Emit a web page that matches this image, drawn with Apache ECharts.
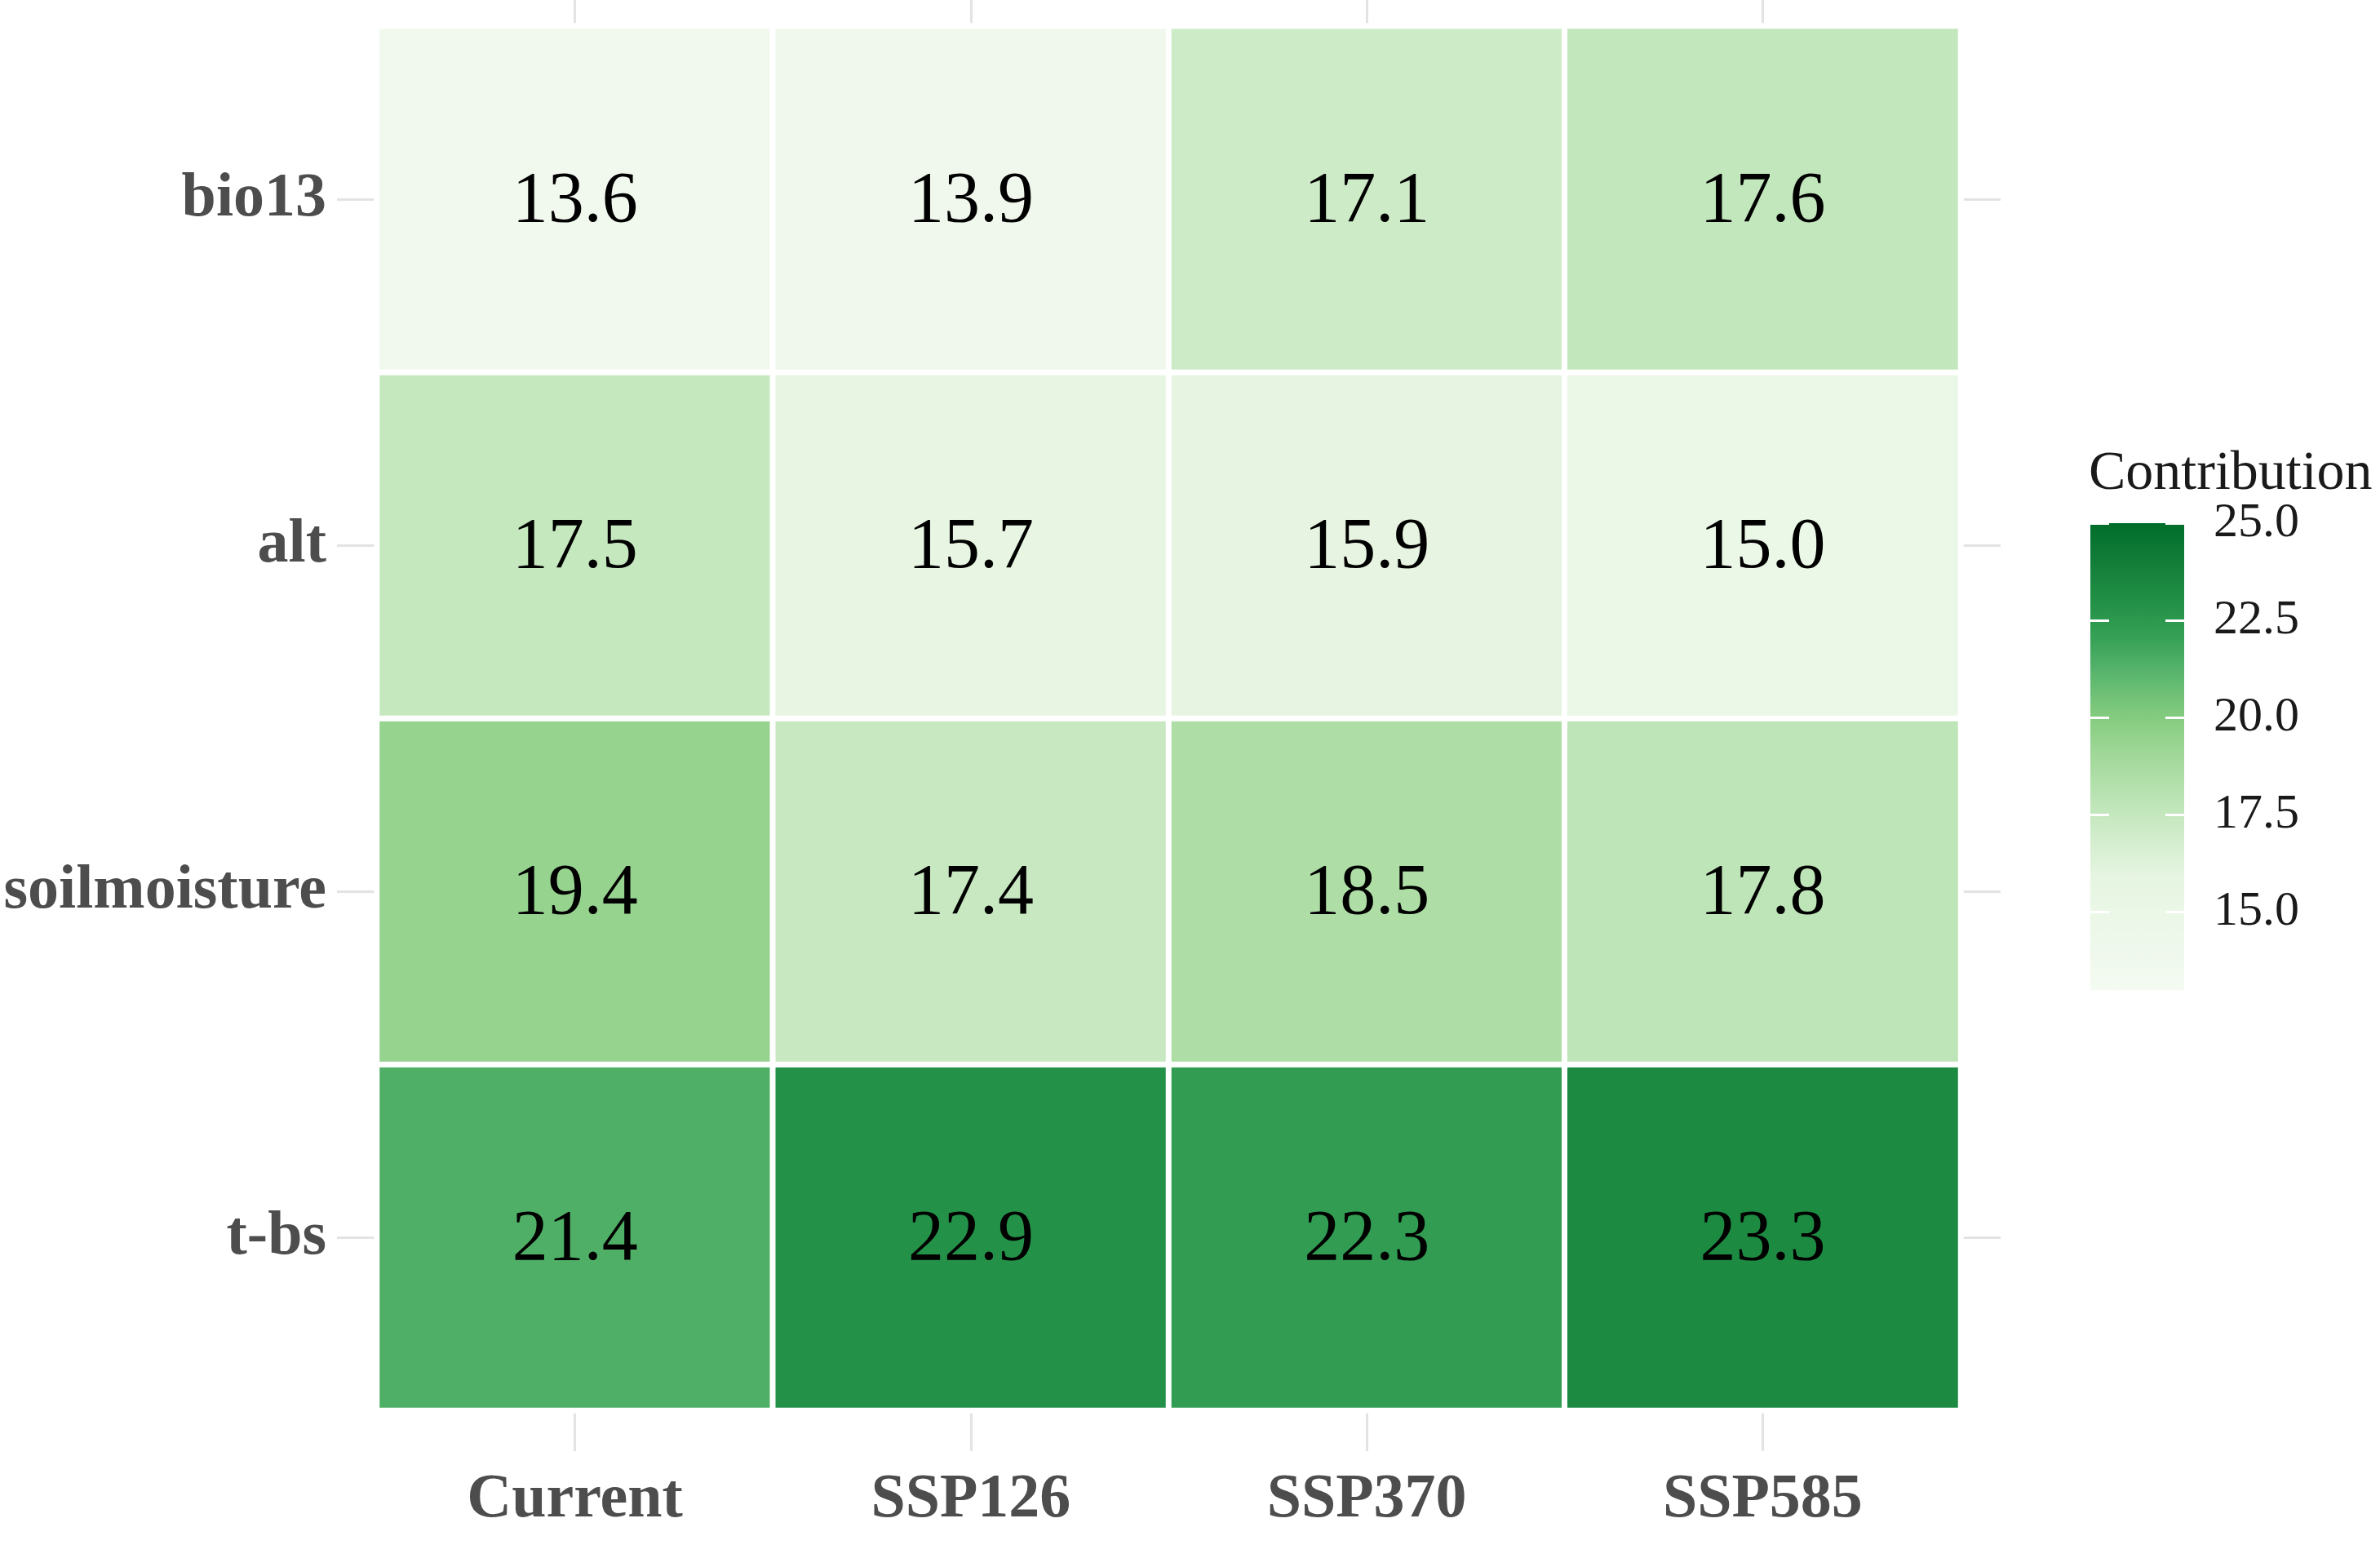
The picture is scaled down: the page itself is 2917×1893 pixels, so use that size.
<!DOCTYPE html>
<html>
<head>
<meta charset="utf-8">
<title>Contribution heatmap</title>
<script src="https://cdn.jsdelivr.net/npm/echarts@6/dist/echarts.min.js"></script>
<style>
  html,body{margin:0;padding:0;background:#fff;}
  #main{width:2917px;height:1893px;}
</style>
</head>
<body>
<div id="main"></div>
<script>
// data
var scenarios = ['Current', 'SSP126', 'SSP370', 'SSP585'];
var variables = ['t-bs', 'soilmoisture', 'alt', 'bio13'];   // bottom -> top
var tbsVals  = [21.4, 22.9, 22.3, 23.3];
var soilVals = [19.4, 17.4, 18.5, 17.8];
var altVals  = [17.5, 15.7, 15.9, 15.0];
var bioVals  = [13.6, 13.9, 17.1, 17.6];
var legendTicks = [15, 17.5, 20, 22.5, 25];
var legendMin = 13, legendMax = 25;
// colour ramp, one stop per unit from 13 to 25
var greens = ['#f4fbf2', '#eff8ec', '#ebf7e7', '#e5f4e0', '#d0ecca', '#b9e3b2', '#a2d89a',
              '#85cc7f', '#5fb870', '#37a257', '#228f47', '#127e38', '#006d2c'];

var rows = [tbsVals, soilVals, altVals, bioVals];
var heatData = [];
for (var r = 0; r < rows.length; r++) {
    for (var c = 0; c < scenarios.length; c++) {
        heatData.push([c, r, rows[r][c]]);
    }
}

var serif = '"Liberation Serif", "DejaVu Serif", serif';
var gridCol = '#e3e3e3';

var chart = echarts.init(document.getElementById('main'));
var option = {
    backgroundColor: '#fff',
    animation: false,
    title: {
        text: 'Contribution',
        left: 2560,
        top: 547,
        padding: 0,
        textStyle: { fontFamily: serif, fontWeight: 'normal', fontSize: 68, color: '#1a1a1a' }
    },
    grid: [
        { left: 462, right: 514, top: 32, bottom: 165 },
        { left: 2562, top: 641, width: 115, height: 572 }   // colorbar ticks
    ],
    xAxis: [
        {
            type: 'category', gridIndex: 0, data: scenarios, position: 'bottom',
            axisLine: { show: false },
            axisTick: { show: true, alignWithLabel: true, length: 50, lineStyle: { color: gridCol, width: 3 } },
            axisLabel: { margin: 72, fontFamily: serif, fontWeight: 'bold', fontSize: 76, color: '#4d4d4d' },
            splitLine: { show: false }
        },
        {
            type: 'category', gridIndex: 0, data: scenarios, position: 'top',
            axisLine: { show: false },
            axisTick: { show: true, alignWithLabel: true, length: 32, lineStyle: { color: gridCol, width: 3 } },
            axisLabel: { show: false },
            splitLine: { show: false }
        },
        {
            type: 'value', gridIndex: 1, show: false
        }
    ],
    yAxis: [
        {
            type: 'category', gridIndex: 0, data: variables, position: 'left',
            axisLine: { show: false },
            axisTick: { show: true, alignWithLabel: true, length: 49, lineStyle: { color: gridCol, width: 3 } },
            axisLabel: { margin: 62, fontFamily: serif, fontWeight: 'bold', fontSize: 76, color: '#4d4d4d' },
            splitLine: { show: false }
        },
        {
            type: 'category', gridIndex: 0, data: variables, position: 'right',
            axisLine: { show: false },
            axisTick: { show: true, alignWithLabel: true, length: 49, lineStyle: { color: gridCol, width: 3 } },
            axisLabel: { show: false },
            splitLine: { show: false }
        },
        {
            type: 'value', gridIndex: 1, min: legendMin, max: legendMax, position: 'left', z: 10,
            axisLine: { show: false },
            axisTick: { show: true, inside: true, length: 23, customValues: legendTicks, lineStyle: { color: '#fff', width: 3 } },
            axisLabel: { show: false },
            splitLine: { show: false }
        },
        {
            type: 'value', gridIndex: 1, min: legendMin, max: legendMax, position: 'right', z: 10,
            axisLine: { show: false },
            axisTick: { show: true, inside: true, length: 23, customValues: legendTicks, lineStyle: { color: '#fff', width: 3 } },
            axisLabel: {
                show: true, customValues: legendTicks, margin: 36, padding: [8, 0, 0, 0],
                fontFamily: serif, fontSize: 60, color: '#1a1a1a',
                formatter: function (v) { return Number(v).toFixed(1); }
            },
            splitLine: { show: false }
        }
    ],
    visualMap: {
        type: 'continuous',
        seriesIndex: 0,
        dimension: 2,
        min: legendMin,
        max: legendMax,
        calculable: false,
        orient: 'vertical',
        left: 2562,
        top: 641,
        padding: 0,
        itemWidth: 115,
        itemHeight: 572,
        text: null,
        showLabel: false,
        inRange: { color: greens }
    },
    series: [
        {
            type: 'heatmap',
            xAxisIndex: 0,
            yAxisIndex: 0,
            data: heatData,
            itemStyle: { borderColor: '#fff', borderWidth: 7 },
            label: {
                show: true,
                offset: [0, 4],
                fontFamily: serif,
                fontSize: 88,
                color: '#000',
                formatter: function (p) { return p.value[2].toFixed(1); }
            },
            emphasis: { disabled: true }
        }
    ]
};
chart.setOption(option);
</script>
</body>
</html>
